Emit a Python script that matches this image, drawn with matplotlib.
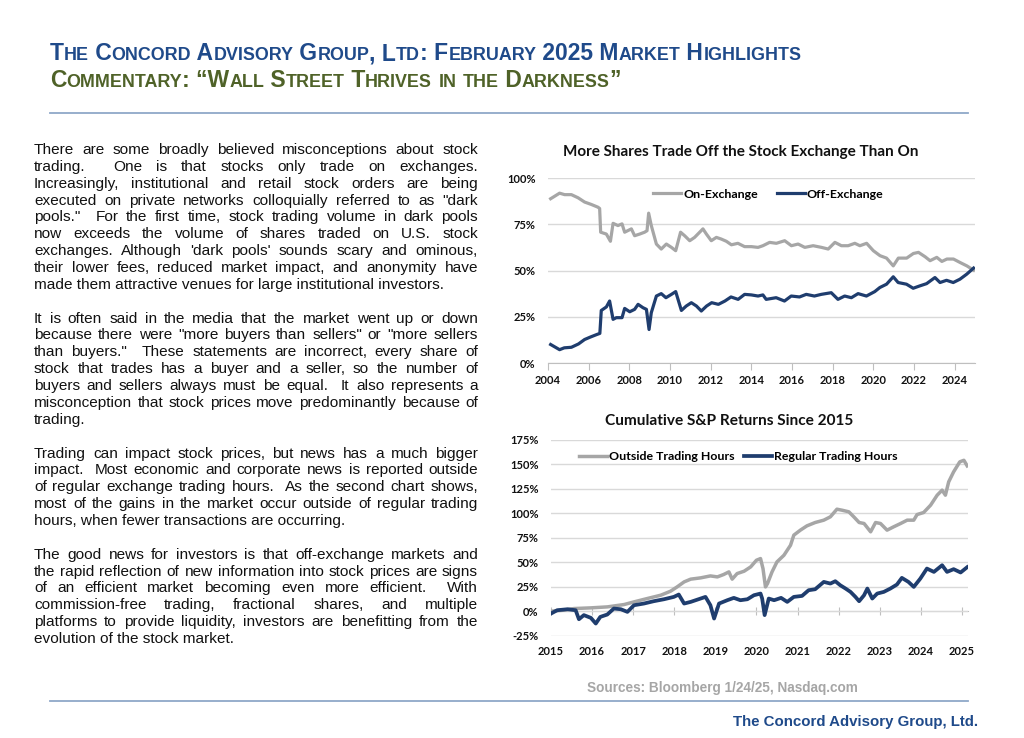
import matplotlib
matplotlib.use("Agg")
import matplotlib.pyplot as plt
from matplotlib.font_manager import FontProperties
from matplotlib.lines import Line2D

# ---------------- data ----------------
on_years = [2004.13, 2004.57, 2004.82, 2005.15, 2005.48, 2005.80, 2006.13, 2006.46, 2006.54, 2006.59,
            2006.87, 2007.07, 2007.20, 2007.44, 2007.64, 2007.77, 2008.10, 2008.26, 2008.51, 2008.75,
            2008.87, 2008.95, 2009.08, 2009.33, 2009.57, 2009.82, 2010.07, 2010.28, 2010.52, 2010.72,
            2010.97, 2011.21, 2011.46, 2011.62, 2011.79, 2012.03, 2012.28, 2012.52, 2012.77, 2013.02,
            2013.34, 2013.67, 2014.00, 2014.33, 2014.57, 2014.90, 2015.23, 2015.64, 2015.97, 2016.30,
            2016.63, 2017.04, 2017.45, 2017.78, 2018.11, 2018.43, 2018.76, 2019.09, 2019.34, 2019.67,
            2020.00, 2020.33, 2020.65, 2020.98, 2021.23, 2021.64, 2021.97, 2022.22, 2022.55, 2022.79,
            2023.12, 2023.37, 2023.62, 2023.94, 2024.27, 2024.60, 2024.93]
on_vals = [88.8, 91.8, 91.0, 91.0, 89.3, 87.0, 85.7, 84.2, 83.5, 70.7,
           69.7, 65.8, 75.5, 74.3, 75.2, 70.7, 72.5, 68.8, 69.7, 70.7,
           71.5, 81.0, 74.3, 64.3, 61.6, 64.3, 62.5, 60.7, 70.7, 68.8,
           66.1, 67.9, 70.7, 72.5, 69.7, 66.1, 67.9, 67.0, 65.8, 63.9,
           64.7, 62.9, 62.9, 62.5, 63.4, 65.2, 64.7, 66.1, 63.4, 64.3,
           62.5, 63.4, 62.5, 61.6, 65.2, 63.4, 63.4, 64.7, 63.4, 64.7,
           60.7, 58.0, 56.7, 52.5, 56.7, 56.7, 59.2, 59.8, 57.4, 55.3,
           57.1, 54.9, 56.2, 56.2, 54.3, 52.5, 50.2]

off_years = [2004.13, 2004.57, 2004.80, 2005.15, 2005.50, 2005.80, 2006.10, 2006.40, 2006.55, 2006.62,
             2006.87, 2007.03, 2007.20, 2007.36, 2007.64, 2007.77, 2008.02, 2008.26, 2008.43, 2008.67,
             2008.84, 2008.97, 2009.08, 2009.33, 2009.57, 2009.80, 2010.07, 2010.28, 2010.56, 2010.80,
             2011.05, 2011.30, 2011.54, 2011.80, 2012.05, 2012.38, 2012.70, 2013.00, 2013.35, 2013.67,
             2014.00, 2014.33, 2014.57, 2014.73, 2015.22, 2015.63, 2015.96, 2016.37, 2016.70, 2017.10,
             2017.44, 2017.93, 2018.26, 2018.59, 2018.92, 2019.25, 2019.66, 2020.07, 2020.32, 2020.65,
             2020.98, 2021.22, 2021.63, 2021.96, 2022.29, 2022.62, 2023.03, 2023.28, 2023.60, 2023.93,
             2024.26, 2024.59, 2024.93]
off_vals = [10.0, 7.2, 8.2, 8.5, 10.3, 12.7, 14.1, 15.4, 16.0, 28.4,
            30.3, 33.5, 23.6, 24.5, 24.5, 29.5, 27.7, 29.0, 31.7, 29.9,
            29.0, 18.1, 27.2, 36.2, 37.5, 35.3, 37.1, 38.6, 28.4, 30.8,
            32.6, 30.8, 28.1, 30.8, 32.6, 31.7, 33.5, 35.7, 34.4, 37.1,
            36.8, 36.2, 36.8, 34.4, 35.3, 33.5, 36.2, 35.7, 37.1, 36.2,
            37.1, 38.0, 34.4, 36.2, 35.3, 37.5, 36.2, 38.6, 40.8, 42.6,
            46.6, 43.5, 42.6, 40.4, 41.7, 42.9, 46.2, 43.5, 44.7, 43.5,
            45.3, 48.0, 51.3]

outside_years = [2015.00, 2015.30, 2015.56, 2015.97, 2016.37, 2016.78, 2017.02, 2017.34, 2017.67, 2017.91,
                 2018.07, 2018.24, 2018.40, 2018.64, 2018.88, 2019.05, 2019.20, 2019.33, 2019.41, 2019.53,
                 2019.70, 2019.86, 2020.00, 2020.10, 2020.16, 2020.22, 2020.27, 2020.38, 2020.50, 2020.67,
                 2020.83, 2020.91, 2021.07, 2021.23, 2021.43, 2021.64, 2021.80, 2021.96, 2022.09, 2022.25,
                 2022.37, 2022.50, 2022.62, 2022.78, 2022.90, 2023.02, 2023.18, 2023.34, 2023.51, 2023.67,
                 2023.83, 2023.91, 2024.07, 2024.24, 2024.40, 2024.52, 2024.60, 2024.68, 2024.80, 2024.95,
                 2025.05, 2025.13]
outside_vals = [0.0, 1.0, 2.7, 3.4, 4.4, 6.8, 9.5, 12.9, 16.3, 20.4,
                24.8, 29.9, 32.7, 34.0, 36.0, 35.0, 37.4, 40.1, 32.7, 38.4,
                40.8, 45.2, 52.0, 53.7, 43.5, 24.8, 28.2, 40.1, 50.3, 57.1,
                67.3, 77.6, 82.7, 87.1, 90.5, 92.9, 96.3, 104.1, 103.0, 101.4,
                96.3, 90.5, 89.5, 81.0, 90.5, 89.5, 82.7, 86.1, 89.5, 92.9,
                92.9, 98.6, 100.7, 108.2, 118.4, 123.5, 118.4, 132.0, 142.2, 152.4,
                154.0, 148.3]

regular_years = [2015.00, 2015.15, 2015.40, 2015.60, 2015.68, 2015.80, 2015.97, 2016.09, 2016.20, 2016.37,
                 2016.53, 2016.70, 2016.86, 2017.02, 2017.26, 2017.50, 2017.75, 2017.99, 2018.11, 2018.24,
                 2018.40, 2018.64, 2018.76, 2018.88, 2018.97, 2019.09, 2019.29, 2019.45, 2019.61, 2019.78,
                 2019.94, 2020.10, 2020.14, 2020.20, 2020.30, 2020.43, 2020.60, 2020.75, 2020.91, 2021.11,
                 2021.27, 2021.43, 2021.64, 2021.80, 2021.92, 2022.04, 2022.17, 2022.29, 2022.41, 2022.50,
                 2022.62, 2022.70, 2022.82, 2022.94, 2023.10, 2023.26, 2023.42, 2023.54, 2023.70, 2023.83,
                 2023.99, 2024.15, 2024.32, 2024.52, 2024.64, 2024.80, 2024.97, 2025.13]
regular_vals = [-2.4, 1.0, 2.0, 1.0, -8.2, -4.0, -6.8, -12.6, -5.8, -3.4,
                2.7, 2.0, -0.7, 6.1, 7.8, 10.2, 12.2, 14.6, 17.0, 7.8,
                9.5, 12.9, 14.6, 6.1, -7.5, 7.8, 11.2, 13.6, 11.2, 12.2,
                16.3, 18.0, 12.9, -4.0, 12.9, 11.2, 13.6, 9.5, 14.6, 15.6,
                21.4, 22.4, 29.9, 28.2, 30.6, 26.5, 23.1, 19.7, 14.6, 10.2,
                16.3, 23.1, 12.9, 18.0, 19.7, 23.1, 27.2, 34.0, 29.9, 24.8,
                33.3, 43.5, 40.1, 46.9, 40.1, 42.9, 39.5, 44.9]

chart1_title = "More Shares Trade Off the Stock Exchange Than On"
chart1_series = ["On-Exchange", "Off-Exchange"]
chart1_xticks = list(range(2004, 2025, 2))
chart1_yticks = [0, 25, 50, 75, 100]

chart2_title = "Cumulative S&P Returns Since 2015"
chart2_series = ["Outside Trading Hours", "Regular Trading Hours"]
chart2_xticks = list(range(2015, 2026))
chart2_yticks = [-25, 0, 25, 50, 75, 100, 125, 150, 175]

title_line1 = "The Concord Advisory Group, Ltd: February 2025 Market Highlights"
title_line2 = "Commentary: \u201cWall Street Thrives in the Darkness\u201d"

paragraphs = [
    ["There are some broadly believed misconceptions about stock",
     "trading.  One is that stocks only trade on exchanges.",
     "Increasingly, institutional and retail stock orders are being",
     "executed on private networks colloquially referred to as \"dark",
     "pools.\"  For the first time, stock trading volume in dark pools",
     "now exceeds the volume of shares traded on U.S. stock",
     "exchanges. Although 'dark pools' sounds scary and ominous,",
     "their lower fees, reduced market impact, and anonymity have",
     "made them attractive venues for large institutional investors."],
    ["It is often said in the media that the market went up or down",
     "because there were \"more buyers than sellers\" or \"more sellers",
     "than buyers.\"  These statements are incorrect, every share of",
     "stock that trades has a buyer and a seller, so the number of",
     "buyers and sellers always must be equal.  It also represents a",
     "misconception that stock prices move predominantly because of",
     "trading."],
    ["Trading can impact stock prices, but news has a much bigger",
     "impact.  Most economic and corporate news is reported outside",
     "of regular exchange trading hours.  As the second chart shows,",
     "most of the gains in the market occur outside of regular trading",
     "hours, when fewer transactions are occurring."],
    ["The good news for investors is that off-exchange markets and",
     "the rapid reflection of new information into stock prices are signs",
     "of an efficient market becoming even more efficient.  With",
     "commission-free trading, fractional shares, and multiple",
     "platforms to provide liquidity, investors are benefitting from the",
     "evolution of the stock market."],
]

sources_text = "Sources: Bloomberg 1/24/25, Nasdaq.com"
footer_text = "The Concord Advisory Group, Ltd."

# ---------------- styling ----------------
GREY = "#A6A6A6"
BLUE = "#1F3D6E"
TITLE_BLUE = "#1F4A8A"
OLIVE = "#4F6228"
RULE = "#8FA8C8"
GRID = "#D9D9D9"
TXT = "#111111"
CHART_FONT = ["Lato", "DejaVu Sans"]
BODY_FONT = ["Liberation Sans", "DejaVu Sans"]

W, H = 1024, 738
fig = plt.figure(figsize=(W / 100, H / 100), dpi=100)
fig.patch.set_facecolor("white")
renderer = fig.canvas.get_renderer()


def fx(x):
    return x / W


def fy(y):
    return 1 - y / H


def tw(s, prop):
    return renderer.get_text_width_height_descent(s, prop, ismath=False)[0]


def adv(s, prop):
    return tw(s + "|", prop) - tw("|", prop)


def fit_size(s, family, weight, target, base=10.0):
    p = FontProperties(family=family, weight=weight, size=base)
    return base * target / tw(s, p)


# ---------------- small caps titles ----------------
def sc_runs(s):
    runs = []
    for ch in s:
        small = ch.islower()
        t = ch.upper()
        if runs and runs[-1][1] == small:
            runs[-1][0] += t
        else:
            runs.append([t, small])
    return runs


def sc_width(s, size, ratio, family):
    w = 0
    for t, small in sc_runs(s):
        p = FontProperties(family=family, weight="bold", size=size * (ratio if small else 1))
        w += adv(t, p)
    return w


def draw_sc(x, y, s, size, ratio, color, family):
    cx = x
    for t, small in sc_runs(s):
        p = FontProperties(family=family, weight="bold", size=size * (ratio if small else 1))
        fig.text(fx(cx), fy(y), t, fontproperties=p, color=color, ha="left", va="baseline")
        cx += adv(t, p)


TFONT = ["Liberation Sans Narrow", "Liberation Sans"]
ratio = 0.78
base_w = sc_width(title_line1, 10, ratio, TFONT)
tsize = 10 * (802 - 50) / base_w
draw_sc(50, 60, title_line1, tsize, ratio, TITLE_BLUE, TFONT)
draw_sc(50, 87, title_line2, tsize, ratio, OLIVE, TFONT)

fig.add_artist(Line2D([fx(50), fx(968)], [fy(113), fy(113)], transform=fig.transFigure,
                      color=RULE, lw=1.3))
fig.add_artist(Line2D([fx(50), fx(968)], [fy(701), fy(701)], transform=fig.transFigure,
                      color=RULE, lw=1.3))

# ---------------- body text (justified) ----------------
bsize = fit_size(paragraphs[0][-1], BODY_FONT, "normal", 413)
bprop = FontProperties(family=BODY_FONT, size=bsize)
X0, X1 = 34, 478
line_step = (639 - 150) / 29.0
row = 0
for para in paragraphs:
    for i, line in enumerate(para):
        yb = 150 + row * line_step + 4
        last = i == len(para) - 1
        if last:
            fig.text(fx(X0), fy(yb), line, fontproperties=bprop, color=TXT, ha="left", va="baseline")
        else:
            words, gaps = [], []
            pending = 0
            for tkn in line.split(" "):
                if tkn == "":
                    pending += 1
                else:
                    if words:
                        gaps.append(1 + pending)
                    pending = 0
                    words.append(tkn)
            widths = [tw(wd, bprop) for wd in words]
            extra = (X1 - X0) - sum(widths)
            unit = extra / sum(gaps)
            cx = X0
            for k, wd in enumerate(words):
                fig.text(fx(cx), fy(yb), wd, fontproperties=bprop, color=TXT, ha="left", va="baseline")
                cx += widths[k]
                if k < len(gaps):
                    cx += unit * gaps[k]
        row += 1
    row += 1

# ---------------- chart fonts ----------------
tick_size = fit_size("100%", CHART_FONT, "bold", 28.5)
leg_size = fit_size("On-Exchange", CHART_FONT, "bold", 75)
t1_size = fit_size(chart1_title, CHART_FONT, "bold", 358)
t2_size = fit_size(chart2_title, CHART_FONT, "bold", 248)
tick_prop = FontProperties(family=CHART_FONT, weight="bold", size=tick_size)
leg_prop = FontProperties(family=CHART_FONT, weight="bold", size=leg_size)
leg_px = leg_size * 100 / 72.0


def style_axes(ax):
    for sp in ["left", "right", "top"]:
        ax.spines[sp].set_visible(False)
    ax.grid(axis="y", color=GRID, lw=1.0)
    ax.set_axisbelow(True)
    ax.tick_params(axis="y", length=0, pad=9)
    for lab in ax.get_xticklabels() + ax.get_yticklabels():
        lab.set_fontproperties(tick_prop)
        lab.set_color(TXT)


# chart 1
ax1 = fig.add_axes([fx(548), fy(363), (975 - 548) / W, (363 - 178) / H])
ax1.plot(on_years, on_vals, color=GREY, lw=2.3, label=chart1_series[0])
ax1.plot(off_years, off_vals, color=BLUE, lw=2.3, label=chart1_series[1])
ax1.set_xlim(2004, 2025.0)
ax1.set_ylim(0, 100)
ax1.set_yticks(chart1_yticks)
ax1.set_yticklabels([f"{v}%" for v in chart1_yticks])
ax1.set_xticks(chart1_xticks)
ax1.set_xticklabels([str(v) for v in chart1_xticks])
ax1.spines["bottom"].set_color("#BFBFBF")
ax1.tick_params(axis="x", direction="out", length=5, color="#BFBFBF", pad=3.5)
style_axes(ax1)
fig.text(fx(741), fy(152), chart1_title, ha="center", va="center",
         fontproperties=FontProperties(family=CHART_FONT, weight="bold", size=t1_size), color=TXT)
ax1.legend(loc="center left", bbox_to_anchor=(fx(653), fy(194)), bbox_transform=fig.transFigure,
           ncol=2, frameon=False, prop=leg_prop, borderpad=0, borderaxespad=0,
           handlelength=28 / leg_px, handletextpad=2 / leg_px, columnspacing=19 / leg_px)

# chart 2
ax2 = fig.add_axes([fx(551), fy(635.7), (968 - 551) / W, (635.7 - 439.7) / H])
ax2.plot(outside_years, outside_vals, color=GREY, lw=2.5, label=chart2_series[0])
ax2.plot(regular_years, regular_vals, color=BLUE, lw=2.7, label=chart2_series[1])
ax2.set_xlim(2015, 2025.15)
ax2.set_ylim(-25, 175)
ax2.set_yticks(chart2_yticks)
ax2.set_yticklabels([f"{v}%" for v in chart2_yticks])
ax2.set_xticks(chart2_xticks)
ax2.set_xticklabels([str(v) for v in chart2_xticks])
ax2.spines["bottom"].set_visible(False)
ax2.tick_params(axis="x", length=0, pad=7.5)
style_axes(ax2)
sec = ax2.secondary_xaxis(25 / 200)
sec.set_xticks(chart2_xticks)
sec.tick_params(axis="x", direction="inout", length=6, color="#BFBFBF", labelbottom=False)
sec.spines["bottom"].set_color("#BFBFBF")
sec.set_zorder(0)
fig.text(fx(729), fy(421), chart2_title, ha="center", va="center",
         fontproperties=FontProperties(family=CHART_FONT, weight="bold", size=t2_size), color=TXT)
ax2.legend(loc="center left", bbox_to_anchor=(fx(579), fy(457)), bbox_transform=fig.transFigure,
           ncol=2, frameon=False, prop=leg_prop, borderpad=0, borderaxespad=0,
           handlelength=28 / leg_px, handletextpad=2 / leg_px, columnspacing=9 / leg_px)

# ---------------- footer ----------------
s_size = fit_size(sources_text, BODY_FONT, "bold", 271)
fig.text(fx(587), fy(688), sources_text, ha="left", va="center", color="#A6A6A6",
         fontproperties=FontProperties(family=BODY_FONT, weight="bold", size=s_size))
f_size = fit_size(footer_text, BODY_FONT, "bold", 245)
fig.text(fx(978), fy(722), footer_text, ha="right", va="center", color=TITLE_BLUE,
         fontproperties=FontProperties(family=BODY_FONT, weight="bold", size=f_size))

fig.savefig("out.png", dpi=100, facecolor="white")
